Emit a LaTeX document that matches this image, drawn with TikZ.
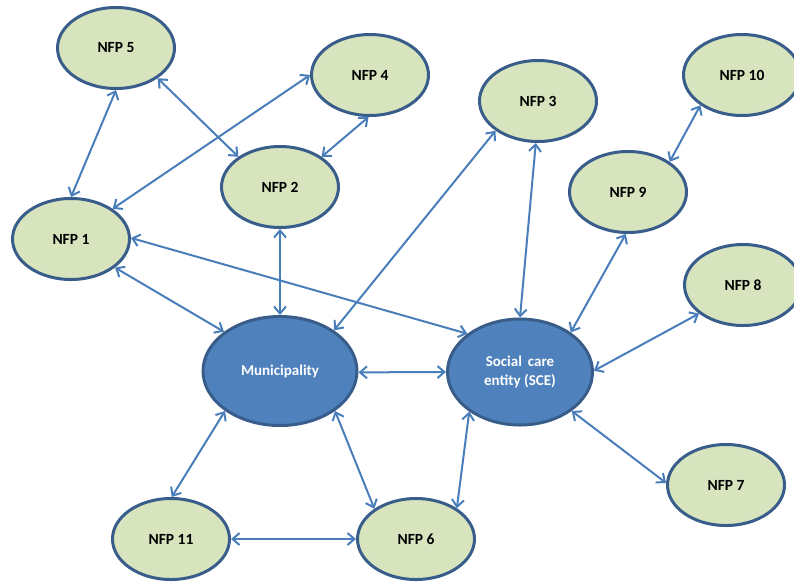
\documentclass[tikz,border=0pt]{standalone}
\usepackage{fontspec}
\setmainfont{Carlito}
\usetikzlibrary{arrows.meta, shapes.geometric}
\definecolor{olivo}{HTML}{D7E4BD}
\definecolor{borde}{HTML}{385D8A}
\definecolor{azul}{HTML}{4F81BD}
\definecolor{flecha}{HTML}{4A7EBB}

\begin{document}
\begin{tikzpicture}[x=1pt, y=-1pt,
      nfp/.style={ellipse, draw=borde, line width=3pt, fill=olivo,
                  minimum width=117pt, minimum height=81pt, inner sep=0pt,
                  font=\fontsize{15.5}{18}\selectfont\bfseries},
      entity/.style={nfp, fill=azul, text=white, align=center,
                  font=\fontsize{15}{19.3}\selectfont\bfseries},
      arrow/.style={{Straight Barb[length=7pt,width=12pt]}-{Straight Barb[length=7pt,width=12pt]},
                  line width=2pt, draw=flecha} ]
    \useasboundingbox (0,0) rectangle (794,582);

    % actores principales
    \node[entity, minimum width=154pt, minimum height=109pt] (muni) at (280,371) {Municipality};
    \node[entity, minimum width=145pt, minimum height=106pt] (sce)  at (520,372) {Social\, care\\entity (SCE)};

    % organizaciones sin fines de lucro
    \node[nfp] (nfp1)  at (71,239)  {NFP 1};
    \node[nfp] (nfp2)  at (280,187) {NFP 2};
    \node[nfp] (nfp3)  at (538,101) {NFP 3};
    \node[nfp] (nfp4)  at (370,75)  {NFP 4};
    \node[nfp] (nfp5)  at (116,48)  {NFP 5};
    \node[nfp] (nfp6)  at (416,539) {NFP 6};
    \node[nfp] (nfp7)  at (726,485) {NFP 7};
    \node[nfp] (nfp8)  at (743,285) {NFP 8};
    \node[nfp] (nfp9)  at (628,192) {NFP 9};
    \node[nfp] (nfp10) at (742,75)  {NFP 10};
    \node[nfp] (nfp11) at (171,539) {NFP 11};

    \draw[arrow] (nfp5.-90)  -- (nfp1.90);
    \draw[arrow] (nfp5.-36)  -- (nfp2.144);
    \draw[arrow] (nfp4.180)  -- (nfp1.36);
    \draw[arrow] (nfp4.-92)  -- (nfp2.36);
    \draw[arrow] (nfp2.-90)  -- (muni.90);
    \draw[arrow] (nfp1.-33)  -- (muni.145);
    \draw[arrow] (nfp1.1)    -- (sce.144);
    \draw[arrow] (muni.37)   -- (nfp3.-145);
    \draw[arrow] (sce.90)    -- (nfp3.-93);
    \draw[arrow] (sce.38)    -- (nfp9.-93);
    \draw[arrow] (nfp9.36)   -- (nfp10.-144);
    \draw[arrow] (sce.1)     -- (nfp8.-147);
    \draw[arrow] (muni.-1)   -- (sce.180);
    \draw[arrow] (sce.-37)   -- (nfp7.178);
    \draw[arrow] (sce.-142)  -- (nfp6.37);
    \draw[arrow] (muni.-36)  -- (nfp6.144);
    \draw[arrow] (muni.-144) -- (nfp11.89);
    \draw[arrow] (nfp11.0)   -- (nfp6.180);
  \end{tikzpicture}
\end{document}
